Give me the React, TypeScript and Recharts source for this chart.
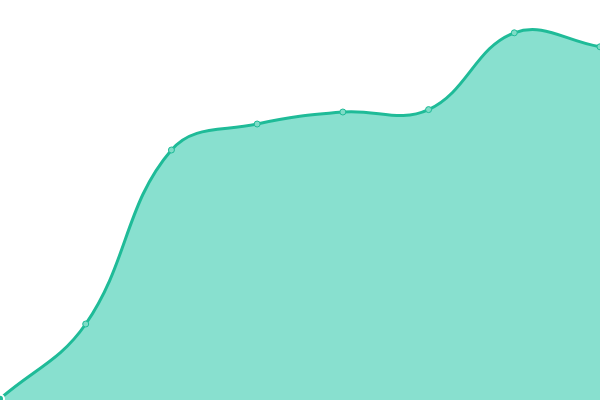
import { AreaChart, Area, XAxis, YAxis } from 'recharts'

const categories = ['A', 'B', 'C', 'D', 'E', 'F', 'G', 'H']
const values = [0.3, 19, 62.5, 69, 72, 72.6, 91.8, 88.3]

const data = categories.map((name, i) => ({ name, value: values[i] }))

// cardinal-ish spline, tension 0.4, same idea as chart.js default cubic interpolation
const TENSION = 0.4

function smoothCurve(context: any) {
  let line = NaN
  let pts: [number, number][] = []
  return {
    areaStart() { line = 0 },
    areaEnd() { line = NaN },
    lineStart() { pts = [] },
    point(x: number, y: number) { pts.push([+x, +y]) },
    lineEnd() {
      const n = pts.length
      if (n) {
        if (line) context.lineTo(pts[0][0], pts[0][1])
        else context.moveTo(pts[0][0], pts[0][1])
        const cps = pts.map((cur, i) => {
          const prev = pts[Math.max(0, i - 1)]
          const next = pts[Math.min(n - 1, i + 1)]
          const d01 = Math.hypot(cur[0] - prev[0], cur[1] - prev[1])
          const d12 = Math.hypot(next[0] - cur[0], next[1] - cur[1])
          const tot = d01 + d12 || 1
          const fa = TENSION * (d01 / tot)
          const fb = TENSION * (d12 / tot)
          const dx = next[0] - prev[0]
          const dy = next[1] - prev[1]
          return {
            inX: cur[0] - fa * dx,
            inY: cur[1] - fa * dy,
            outX: cur[0] + fb * dx,
            outY: cur[1] + fb * dy,
          }
        })
        for (let i = 1; i < n; i++) {
          const a = cps[i - 1]
          const b = cps[i]
          context.bezierCurveTo(a.outX, a.outY, b.inX, b.inY, pts[i][0], pts[i][1])
        }
      }
      if (line || (line !== 0 && n === 1)) context.closePath()
      line = 1 - line
    },
  }
}

export default function App() {
  return (
    <div style={{ position: 'absolute', left: 0, top: 0, width: 600, height: 400 }}>
      <AreaChart width={600} height={400} data={data} margin={{ top: 0, right: 0, bottom: 0, left: 0 }}>
        <XAxis dataKey="name" hide />
        <YAxis domain={[0, 100]} hide />
        <Area
          type={smoothCurve as any}
          dataKey="value"
          stroke="#1fbb98"
          strokeWidth={3}
          fill="#88e0cf"
          fillOpacity={1}
          dot={{ r: 3, fill: '#7fdcc7', stroke: '#1fbb98', strokeWidth: 1, fillOpacity: 1 }}
          isAnimationActive={false}
        />
      </AreaChart>
    </div>
  )
}
